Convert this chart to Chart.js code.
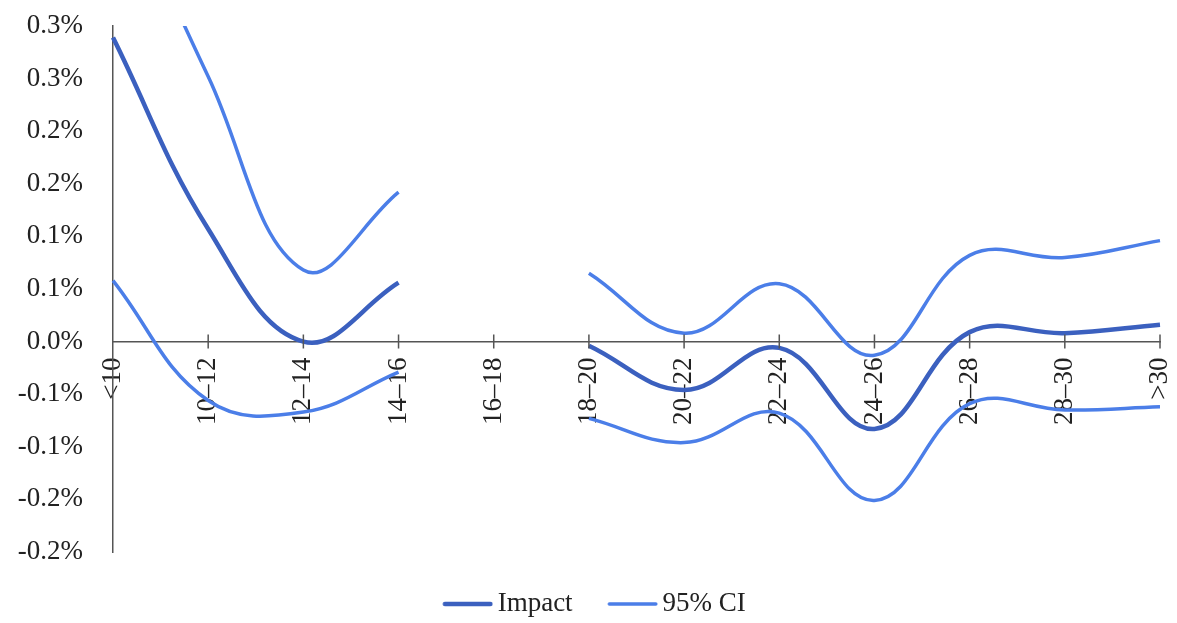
<!DOCTYPE html>
<html>
<head>
<meta charset="utf-8">
<script src="https://cdn.jsdelivr.net/npm/chart.js@4.4.1/dist/chart.umd.min.js"></script>
<style>
  html, body { margin: 0; padding: 0; background: #ffffff; }
  canvas { display: block; }
</style>
</head>
<body>
<canvas id="chart" width="1177" height="623"></canvas>
<script>
// Age bands on the horizontal axis
const categories = ['<10', '10–12', '12–14', '14–16', '16–18', '18–20', '20–22', '22–24', '24–26', '26–28', '28–30', '>30'];

// Estimated impact (in percent) and its 95% confidence bounds; 16–18 has no estimate
const impact  = [0.289, 0.107, 0.000, 0.056, null, -0.004, -0.046, -0.006, -0.083, 0.009, 0.008, 0.016];
const ciUpper = [0.450, 0.252, 0.068, 0.142, null, 0.065, 0.008, 0.055, -0.013, 0.082, 0.080, 0.096];
const ciLower = [0.058, -0.056, -0.067, -0.029, null, -0.073, -0.096, -0.068, -0.151, -0.059, -0.065, -0.062];

// Value-axis labels, bottom to top (one decimal place, as printed)
const yTickLabels = ['-0.2%', '-0.2%', '-0.1%', '-0.1%', '0.0%', '0.1%', '0.1%', '0.2%', '0.2%', '0.3%', '0.3%'];

const FONT = { family: "'Liberation Serif', 'DejaVu Serif', serif", size: 27 };
const TEXT = '#222222';
const AXIS = '#555555';
const IMPACT_COLOR = '#3b60bf';
const CI_COLOR = '#4b7ee8';
const IMPACT_WIDTH = 4.5;
const CI_WIDTH = 3.5;

// Legend swatch: a 50px line that ends just before the label text
function legendSwatch(color, width) {
  const c = document.createElement('canvas');
  c.width = 56;
  c.height = 10;
  const g = c.getContext('2d');
  g.strokeStyle = color;
  g.lineWidth = width;
  g.lineCap = 'round';
  g.beginPath();
  g.moveTo(5.5 + width / 2, 5);
  g.lineTo(55.5 - width / 2, 5);
  g.stroke();
  return c;
}

// Short tick marks that straddle the category axis (which sits at zero);
// the value axis also gets the full left margin so its labels are not cut off
const axisTweaks = {
  id: 'axisTweaks',
  afterLayout(chart) {
    chart.scales.y.left = 0;
  },
  afterDraw(chart) {
    const xs = chart.scales.x, ys = chart.scales.y;
    const y0 = ys.getPixelForValue(0);
    const ctx = chart.ctx;
    ctx.save();
    ctx.strokeStyle = AXIS;
    ctx.lineWidth = 1.5;
    ctx.beginPath();
    for (let i = 1; i < xs.ticks.length; i++) {
      const x = xs.getPixelForTick(i);
      ctx.moveTo(x, y0 - 7);
      ctx.lineTo(x, y0 + 7);
    }
    ctx.stroke();
    ctx.restore();
  }
};

function lineDataset(label, data, color, width) {
  return {
    label,
    data,
    borderColor: color,
    backgroundColor: color,
    borderWidth: width,
    tension: 0.4,
    pointRadius: 0,
    pointHoverRadius: 0,
    pointStyle: legendSwatch(color, width),
    fill: false,
    spanGaps: false
  };
}

new Chart(document.getElementById('chart'), {
  type: 'line',
  data: {
    labels: categories,
    datasets: [
      lineDataset('Impact', impact, IMPACT_COLOR, IMPACT_WIDTH),
      lineDataset('95% CI', ciUpper, CI_COLOR, CI_WIDTH),
      lineDataset('95% CI lower', ciLower, CI_COLOR, CI_WIDTH)
    ]
  },
  options: {
    responsive: false,
    animation: false,
    events: [],
    layout: { padding: { top: 26, right: 17, left: 32, bottom: -4.5 } },
    plugins: {
      tooltip: { enabled: false },
      legend: {
        position: 'bottom',
        labels: {
          usePointStyle: true,
          pointStyleWidth: 38,
          padding: 38.5,
          font: FONT,
          color: TEXT,
          filter: (item) => item.datasetIndex !== 2
        }
      }
    },
    scales: {
      x: {
        type: 'category',
        position: { y: 0 },
        offset: false,
        grid: { display: true, drawOnChartArea: false, drawTicks: false },
        border: { display: true, color: AXIS, width: 1.5 },
        ticks: {
          autoSkip: false,
          minRotation: 90,
          maxRotation: 90,
          padding: 16,
          font: FONT,
          color: TEXT
        },
        afterFit(scale) {
          scale.height = 0;
          scale.paddingLeft = 0;
          scale.paddingRight = 0;
        }
      },
      y: {
        min: -0.2,
        max: 0.3,
        grid: { display: true, drawOnChartArea: false, drawTicks: false },
        border: { display: true, color: AXIS, width: 1.5 },
        ticks: {
          stepSize: 0.05,
          autoSkip: false,
          padding: 30,
          font: FONT,
          color: TEXT,
          callback: (value, index) => yTickLabels[index]
        },
        afterFit(scale) {
          scale.width = 81;
          scale.paddingTop = 0;
          scale.paddingBottom = 0;
        }
      }
    }
  },
  plugins: [axisTweaks]
});
</script>
</body>
</html>
